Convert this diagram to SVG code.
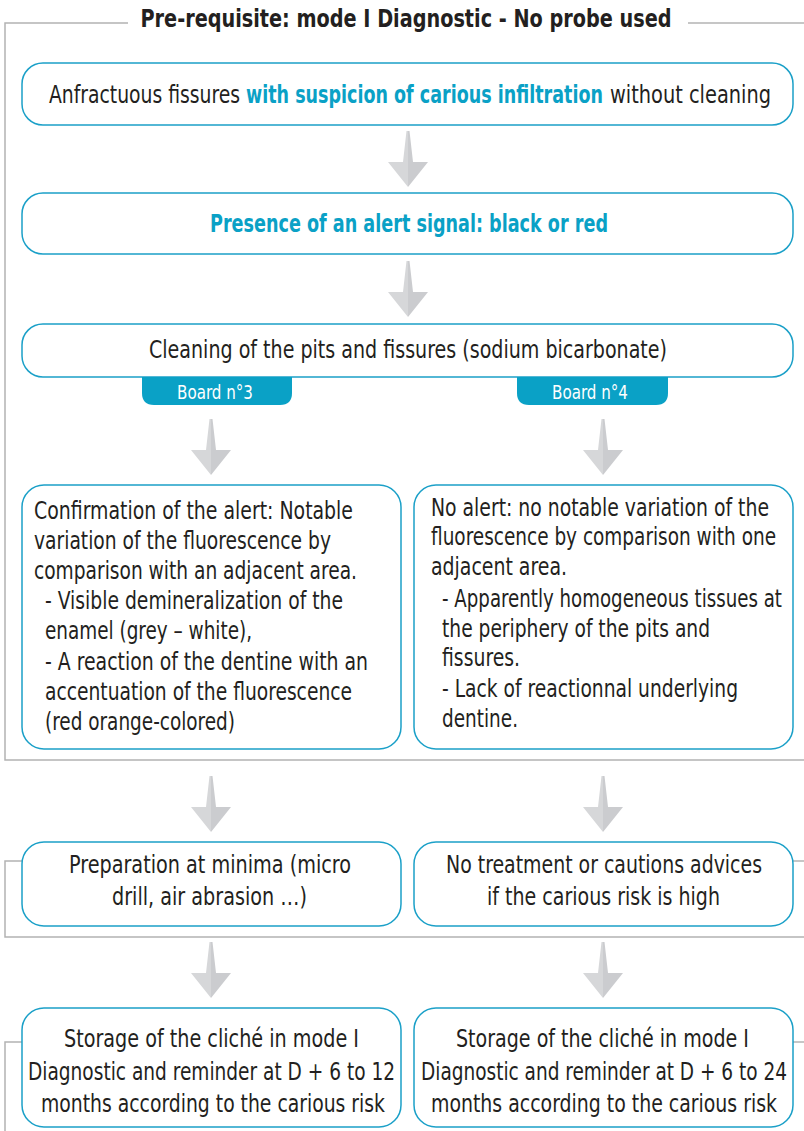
<svg xmlns="http://www.w3.org/2000/svg" width="804" height="1131" viewBox="0 0 804 1131">
<style>
.frame{fill:none;stroke:#b3b3b3;stroke-width:1.5}
.box{fill:#fff;stroke:#1ba0c8;stroke-width:1.5}
.tab{fill:#0aa1c6}
.t{font-family:"Liberation Sans Narrow","DejaVu Sans Condensed",sans-serif;font-size:24px;fill:#231f20}
.cy{fill:#0aa1c6;font-weight:bold}
.title{font-family:"Liberation Sans Narrow","DejaVu Sans Condensed",sans-serif;font-size:24px;font-weight:bold;fill:#231f20;text-anchor:middle}
.tabt{font-family:"Liberation Sans Narrow","DejaVu Sans Condensed",sans-serif;font-size:19px;fill:#fff;text-anchor:middle}
.al{fill:#d6d7d9}
.ar{fill:#cbcccf}
</style>
<defs>
<g id="arrow">
<polygon class="al" points="-1.5,0 0,0 0,56 -20,31 -5,31"/>
<polygon class="ar" points="0,0 1.5,0 5,31 20,31 0,56"/>
</g>
</defs>
<g id="frames">
<polyline class="frame" points="128,23 5,23 5,760 804,760"/>
<line class="frame" x1="688" y1="23" x2="804" y2="23"/>
<polyline class="frame" points="23,861 5,861 5,937 804,937"/>
<line class="frame" x1="792" y1="861" x2="804" y2="861"/>
<polyline class="frame" points="23,1042 5,1042 5,1131"/>
<line class="frame" x1="792" y1="1042" x2="804" y2="1042"/>
<text class="title" x="406" y="27" textLength="531" lengthAdjust="spacingAndGlyphs">Pre-requisite: mode I Diagnostic - No probe used</text>
</g>
<g id="connectors">
<use href="#arrow" x="408" y="131"/>
<use href="#arrow" x="408" y="261"/>
<use href="#arrow" x="211" y="419"/>
<use href="#arrow" x="603" y="419"/>
<use href="#arrow" x="211" y="776"/>
<use href="#arrow" x="603" y="776"/>
<use href="#arrow" x="211" y="942"/>
<use href="#arrow" x="603" y="942"/>
</g>
<g id="n1">
<rect class="box" x="22" y="63" width="771" height="62" rx="21"/>
<text class="t" x="49" y="103" textLength="191" lengthAdjust="spacingAndGlyphs">Anfractuous fissures</text>
<text class="t cy" x="246" y="103" textLength="357" lengthAdjust="spacingAndGlyphs">with suspicion of carious infiltration</text>
<text class="t" x="610" y="103" textLength="161" lengthAdjust="spacingAndGlyphs">without cleaning</text>
</g>
<g id="n2">
<rect class="box" x="22" y="193" width="771" height="61" rx="21"/>
<text class="t cy" x="210" y="232" textLength="398" lengthAdjust="spacingAndGlyphs">Presence of an alert signal: black or red</text>
</g>
<g id="n3">
<rect class="box" x="22" y="324" width="771" height="53" rx="21"/>
<text class="t" x="149" y="358" textLength="518" lengthAdjust="spacingAndGlyphs">Cleaning of the pits and fissures (sodium bicarbonate)</text>
</g>
<g id="tab3">
<path class="tab" d="M142,377 H292 V393 Q292,405 280,405 H154 Q142,405 142,393 Z"/>
<text class="tabt" x="215" y="399" textLength="76" lengthAdjust="spacingAndGlyphs">Board n°3</text>
</g>
<g id="tab4">
<path class="tab" d="M517,377 H668 V393 Q668,405 656,405 H529 Q517,405 517,393 Z"/>
<text class="tabt" x="590" y="399" textLength="76" lengthAdjust="spacingAndGlyphs">Board n°4</text>
</g>
<g id="n4">
<rect class="box" x="22" y="485" width="379" height="264" rx="22"/>
<text class="t" x="34" y="519" textLength="319" lengthAdjust="spacingAndGlyphs">Confirmation of the alert: Notable</text>
<text class="t" x="34" y="549" textLength="297" lengthAdjust="spacingAndGlyphs">variation of the fluorescence by</text>
<text class="t" x="34" y="579" textLength="323" lengthAdjust="spacingAndGlyphs">comparison with an adjacent area.</text>
<text class="t" x="45" y="609" textLength="298" lengthAdjust="spacingAndGlyphs">- Visible demineralization of the</text>
<text class="t" x="45" y="639" textLength="207" lengthAdjust="spacingAndGlyphs">enamel (grey – white),</text>
<text class="t" x="45" y="670" textLength="323" lengthAdjust="spacingAndGlyphs">- A reaction of the dentine with an</text>
<text class="t" x="45" y="700" textLength="307" lengthAdjust="spacingAndGlyphs">accentuation of the fluorescence</text>
<text class="t" x="45" y="730" textLength="190" lengthAdjust="spacingAndGlyphs">(red orange-colored)</text>
</g>
<g id="n5">
<rect class="box" x="414" y="485" width="379" height="264" rx="22"/>
<text class="t" x="431" y="516" textLength="338" lengthAdjust="spacingAndGlyphs">No alert: no notable variation of the</text>
<text class="t" x="431" y="545" textLength="345" lengthAdjust="spacingAndGlyphs">fluorescence by comparison with one</text>
<text class="t" x="431" y="575" textLength="136" lengthAdjust="spacingAndGlyphs">adjacent area.</text>
<text class="t" x="442" y="607" textLength="340" lengthAdjust="spacingAndGlyphs">- Apparently homogeneous tissues at</text>
<text class="t" x="442" y="637" textLength="268" lengthAdjust="spacingAndGlyphs">the periphery of the pits and</text>
<text class="t" x="442" y="666" textLength="78" lengthAdjust="spacingAndGlyphs">fissures.</text>
<text class="t" x="442" y="697" textLength="296" lengthAdjust="spacingAndGlyphs">- Lack of reactionnal underlying</text>
<text class="t" x="442" y="727" textLength="76" lengthAdjust="spacingAndGlyphs">dentine.</text>
</g>
<g id="n6">
<rect class="box" x="22" y="842" width="379" height="84" rx="22"/>
<text class="t" x="69" y="873" textLength="282" lengthAdjust="spacingAndGlyphs">Preparation at minima (micro</text>
<text class="t" x="112" y="905" textLength="195" lengthAdjust="spacingAndGlyphs">drill, air abrasion …)</text>
</g>
<g id="n7">
<rect class="box" x="414" y="842" width="379" height="84" rx="22"/>
<text class="t" x="446" y="873" textLength="316" lengthAdjust="spacingAndGlyphs">No treatment or cautions advices</text>
<text class="t" x="487" y="905" textLength="233" lengthAdjust="spacingAndGlyphs">if the carious risk is high</text>
</g>
<g id="n8">
<rect class="box" x="22" y="1008" width="379" height="119" rx="22"/>
<text class="t" x="64" y="1047" textLength="295" lengthAdjust="spacingAndGlyphs">Storage of the cliché in mode I</text>
<text class="t" x="28" y="1080" textLength="367" lengthAdjust="spacingAndGlyphs">Diagnostic and reminder at D + 6 to 12</text>
<text class="t" x="41" y="1112" textLength="344" lengthAdjust="spacingAndGlyphs">months according to the carious risk</text>
</g>
<g id="n9">
<rect class="box" x="414" y="1008" width="379" height="119" rx="22"/>
<text class="t" x="456" y="1047" textLength="293" lengthAdjust="spacingAndGlyphs">Storage of the cliché in mode I</text>
<text class="t" x="421" y="1080" textLength="366" lengthAdjust="spacingAndGlyphs">Diagnostic and reminder at D + 6 to 24</text>
<text class="t" x="431" y="1112" textLength="346" lengthAdjust="spacingAndGlyphs">months according to the carious risk</text>
</g>
</svg>
